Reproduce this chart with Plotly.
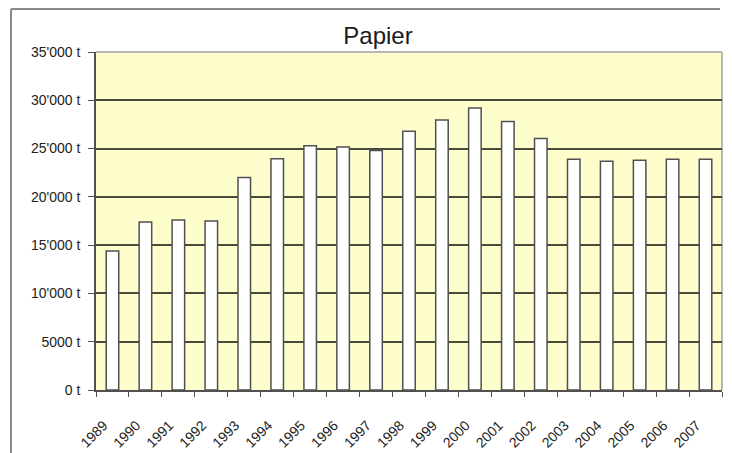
import plotly.graph_objects as go

years = ["1989", "1990", "1991", "1992", "1993", "1994", "1995", "1996", "1997", "1998",
         "1999", "2000", "2001", "2002", "2003", "2004", "2005", "2006", "2007"]
papier_t = [14400, 17400, 17600, 17500, 22000, 23950, 25300, 25150, 24800, 26800,
            27950, 29200, 27800, 26050, 23900, 23700, 23800, 23900, 23900]
y_tick_vals = [0, 5000, 10000, 15000, 20000, 25000, 30000, 35000]
y_tick_text = ["0 t", "5000 t", "10'000 t", "15'000 t", "20'000 t", "25'000 t", "30'000 t", "35'000 t"]

OFF = 8  # default body margin of the html page
PAGE_W, PAGE_H = 732, 453
W, H = PAGE_W - 2 * OFF, PAGE_H - OFF
# plot area in page pixels: x 96..722, y 52..390
PL, PR, PT, PB = 96, 722, 52, 390
L, T = PL - OFF, PT - OFF
R = W - (PR - OFF)
B = H - (PB - OFF)
pw, ph = PR - PL, PB - PT

def px_x(p):
    return (p - PL) / pw

def px_y(p):
    return (PB - p) / ph

fig = go.Figure()
fig.add_trace(go.Bar(
    x=years, y=papier_t, width=0.38,
    marker=dict(color="white", line=dict(color="#505050", width=1.5)),
))

fig.update_layout(
    width=W, height=H,
    margin=dict(l=L, r=R, t=T, b=B, autoexpand=False),
    paper_bgcolor="white",
    plot_bgcolor="#FEFECD",
    showlegend=False,
    font=dict(family="Liberation Sans, Arial, sans-serif", color="#222222"),
    title=dict(text="Papier", x=(378 - OFF) / W, xref="container", xanchor="center",
               y=1 - (36 - OFF) / H, yref="container", yanchor="middle",
               font=dict(size=24, color="#1a1a1a")),
    bargap=0.6,
    xaxis=dict(
        type="category", tickangle=-45, tickson="boundaries",
        ticks="outside", ticklen=5, tickcolor="#505050", tickwidth=1,
        showline=True, linecolor="#505050", linewidth=1.5,
        showgrid=False, tickfont=dict(size=14, color="#222222"),
        ticklabelstandoff=20, ticklabelshift=-9, automargin=False,
    ),
    yaxis=dict(
        range=[0, 35000], tickvals=y_tick_vals, ticktext=y_tick_text,
        ticks="outside", ticklen=6, tickcolor="#505050", tickwidth=1,
        showline=True, linecolor="#505050", linewidth=1.5,
        showgrid=True, gridcolor="#4a4a3a", gridwidth=1.5,
        zeroline=False, tickfont=dict(size=14, color="#222222"),
        ticklabelstandoff=5, automargin=False,
    ),
    shapes=[
        dict(type="line", xref="paper", yref="paper", x0=0, x1=1, y0=1, y1=1,
             line=dict(color="#A0A0A0", width=1.5), layer="below"),
        dict(type="line", xref="paper", yref="paper", x0=1, x1=1, y0=0, y1=1,
             line=dict(color="#A0A0A0", width=1.5), layer="below"),
        dict(type="line", xref="paper", yref="paper",
             x0=px_x(11), x1=px_x(720), y0=px_y(9), y1=px_y(9),
             line=dict(color="#8a8a8a", width=2)),
        dict(type="line", xref="paper", yref="paper",
             x0=px_x(11), x1=px_x(11), y0=px_y(9), y1=px_y(PAGE_H),
             line=dict(color="#8a8a8a", width=2)),
    ],
)

fig.write_html("out.html", config={"displayModeBar": False})
